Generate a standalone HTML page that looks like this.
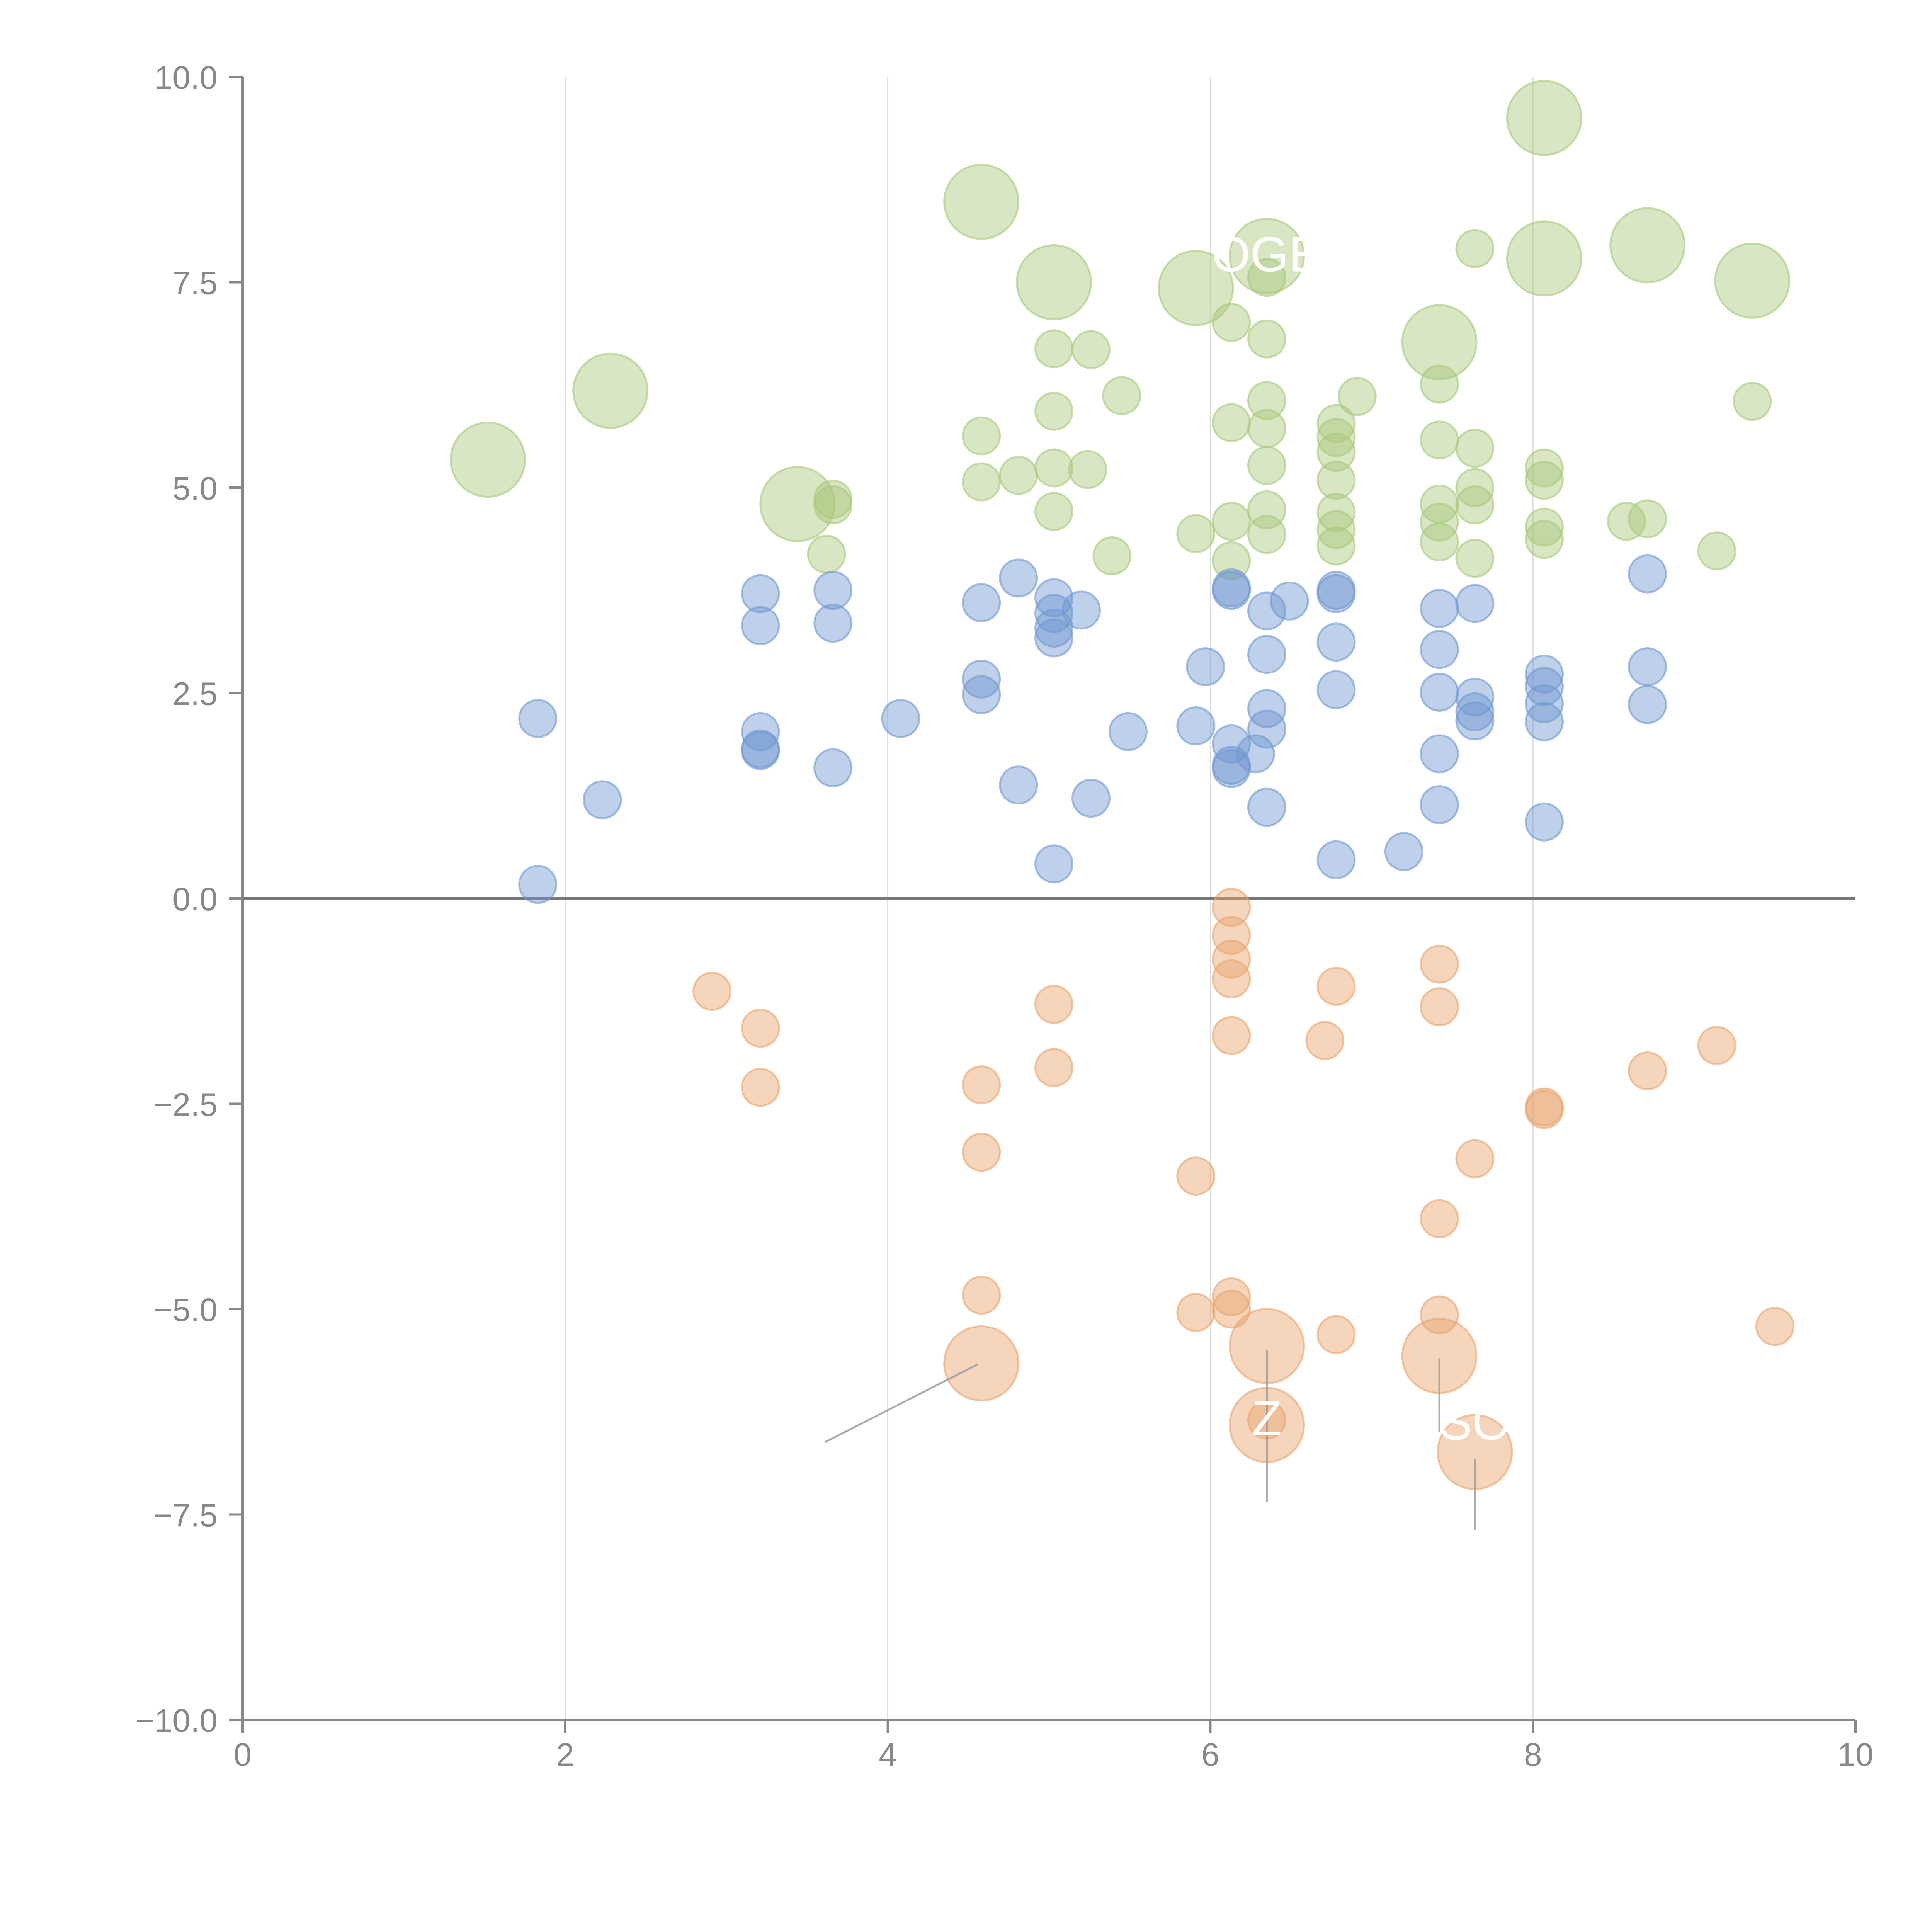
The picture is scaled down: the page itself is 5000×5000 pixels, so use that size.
<!DOCTYPE html>
<html><head><meta charset="utf-8"><style>html,body{margin:0;padding:0;background:#fff}svg{display:block}</style></head>
<body>
<svg id="chart" width="5000" height="5000" viewBox="0 0 5000 5000" xmlns="http://www.w3.org/2000/svg" font-family="Liberation Sans, Arial, sans-serif">
<g id="grid"></g>
<g id="axes"></g>
<g id="marks"></g>
<g id="ann"></g>
</svg>
<script>
const xTicks=[0,2,4,6,8,10];
const xTickLabels=["0","2","4","6","8","10"];
const yTicks=[10,7.5,5,2.5,0,-2.5,-5,-7.5,-10];
const yTickLabels=["10.0","7.5","5.0","2.5","0.0","\u22122.5","\u22125.0","\u22127.5","\u221210.0"];
const greenX=[1.52,2.28,3.44,4.58,5.03,5.91,6.35,7.42,8.07,8.07,8.71,9.36,3.62,3.66,3.66,4.58,4.58,4.81,5.03,5.03,5.03,5.03,5.26,5.24,5.45,5.39,5.91,6.13,6.13,6.13,6.13,6.35,6.35,6.35,6.35,6.35,6.35,6.35,6.78,6.78,6.78,6.78,6.78,6.78,6.78,6.91,7.42,7.42,7.42,7.42,7.42,7.64,7.64,7.64,7.64,7.64,8.07,8.07,8.07,8.07,8.58,8.71,9.14,9.36];
const greenY=[5.34,6.18,4.80,8.48,7.50,7.43,7.82,6.77,9.50,7.79,7.95,7.52,4.19,4.86,4.79,5.63,5.07,5.15,6.69,5.93,5.24,4.71,6.68,5.22,6.12,4.17,4.44,7.01,5.79,4.59,4.11,7.56,6.81,6.06,5.72,5.27,4.73,4.43,5.78,5.61,5.43,5.09,4.70,4.49,4.29,6.11,6.26,5.58,4.80,4.58,4.34,7.91,5.48,5.00,4.79,4.14,5.24,5.09,4.52,4.37,4.59,4.62,4.23,6.05];
const greenSize=[2,2,2,2,2,2,2,2,2,2,2,2,1,1,1,1,1,1,1,1,1,1,1,1,1,1,1,1,1,1,1,1,1,1,1,1,1,1,1,1,1,1,1,1,1,1,1,1,1,1,1,1,1,1,1,1,1,1,1,1,1,1,1,1];
const blueX=[1.83,1.83,2.23,3.21,3.21,3.21,3.21,3.21,3.66,3.66,3.66,4.08,4.58,4.58,4.58,4.81,4.81,5.03,5.03,5.03,5.03,5.03,5.20,5.26,5.49,5.91,5.97,6.13,6.13,6.13,6.13,6.13,6.28,6.35,6.35,6.35,6.35,6.35,6.49,6.78,6.78,6.78,6.78,6.78,7.20,7.42,7.42,7.42,7.42,7.42,7.64,7.64,7.64,7.64,8.07,8.07,8.07,8.07,8.07,8.71,8.71,8.71];
const blueY=[2.19,0.17,1.20,3.71,3.32,2.03,1.82,1.80,3.75,3.35,1.59,2.19,3.60,2.67,2.48,3.90,1.38,3.66,3.47,3.29,3.17,0.42,3.51,1.22,2.03,2.10,2.82,3.78,3.75,1.88,1.62,1.58,1.76,3.50,2.97,2.31,2.06,1.11,3.62,3.75,3.71,3.12,2.54,0.47,0.57,3.53,3.03,2.51,1.76,1.14,3.59,2.45,2.27,2.16,2.73,2.58,2.37,2.15,0.93,3.95,2.82,2.36];
const orangeX=[2.91,3.21,3.21,4.58,4.58,4.58,4.58,5.03,5.03,5.91,5.91,6.13,6.13,6.13,6.13,6.13,6.13,6.13,6.35,6.35,6.35,6.71,6.78,6.78,7.42,7.42,7.42,7.42,7.42,7.64,7.64,8.07,8.07,8.71,9.14,9.50];
const orangeY=[-1.13,-1.58,-2.30,-2.27,-3.09,-4.83,-5.66,-1.29,-2.06,-3.38,-5.04,-0.11,-0.45,-0.74,-0.98,-1.67,-4.85,-5.00,-5.45,-6.41,-6.35,-1.73,-1.07,-5.31,-0.80,-1.32,-3.90,-5.07,-5.57,-3.17,-6.74,-2.54,-2.57,-2.10,-1.79,-5.21];
const orangeSize=[1,1,1,1,1,1,2,1,1,1,1,1,1,1,1,1,1,1,2,2,1,1,1,1,1,1,1,1,2,1,2,1,1,1,1,1];

const NS="http://www.w3.org/2000/svg";
const X0=628,X1=4802,Y0=199,Y1=4451;
function sx(v){return X0+(v-0)/(10-0)*(X1-X0);}
function sy(v){return Y0+(10-v)/20*(Y1-Y0);}
function rad(s){return s===2?96:48;}
function mk(tag,parent,attrs){const e=document.createElementNS(NS,tag);for(const k in attrs)e.setAttribute(k,attrs[k]);parent.appendChild(e);return e;}
const grid=document.getElementById('grid'),axes=document.getElementById('axes'),marks=document.getElementById('marks'),ann=document.getElementById('ann');

xTicks.forEach((t,i)=>{
  if(t>0&&t<10){const g=mk('line',grid,{x1:sx(t),x2:sx(t),y1:Y0,y2:Y1,stroke:'#dddddd','stroke-width':3});
  
  }
  const tk=mk('line',axes,{x1:sx(t),x2:sx(t),y1:Y1,y2:Y1+35,stroke:'#888','stroke-width':6});
  
  
  const tx=mk('text',axes,{x:sx(t),y:4570,'text-anchor':'middle','font-size':84,fill:'#888'});
  tx.textContent=xTickLabels[i];
  
  
});
yTicks.forEach((t,i)=>{
  const tk=mk('line',axes,{x1:X0-35,x2:X0,y1:sy(t),y2:sy(t),stroke:'#888','stroke-width':6});
  
  
  const tx=mk('text',axes,{x:563,y:sy(t)+31,'text-anchor':'end','font-size':84,fill:'#888'});
  tx.textContent=yTickLabels[i];
  
  
});
let a=mk('line',axes,{x1:X0,x2:X0,y1:Y0,y2:Y1,stroke:'#888','stroke-width':6});


a=mk('line',axes,{x1:X0,x2:X1,y1:Y1,y2:Y1,stroke:'#888','stroke-width':6});


a=mk('line',axes,{x1:X0,x2:X1,y1:sy(0),y2:sy(0),stroke:'#777','stroke-width':8});



function series(xs,ys,sz,fill,stroke,name){
  xs.forEach((x,i)=>{
    const c=mk('circle',marks,{cx:sx(x),cy:sy(ys[i]),r:rad(sz?sz[i]:1),fill:fill,'fill-opacity':0.45,stroke:stroke,'stroke-opacity':0.6,'stroke-width':5});
    
    
  });
}
series(greenX,greenY,greenSize,'#a8c87a','#a8c87a','bubble-green');
series(blueX,blueY,null,'#6f97d0','#6f97d0','bubble-blue');
series(orangeX,orangeY,orangeSize,'#e9a36c','#e9a36c','bubble-orange');

const leaderX1=[3.61,6.35,7.42,7.64];
const leaderY1=[-6.62,-5.50,-5.60,-6.82];
const leaderX2=[4.56,6.35,7.42,7.64];
const leaderY2=[-5.67,-7.35,-6.50,-7.69];
leaderX1.forEach((x,i)=>{
  const l=mk('line',ann,{x1:sx(x),y1:sy(leaderY1[i]),x2:sx(leaderX2[i]),y2:sy(leaderY2[i]),stroke:'#999','stroke-width':5,'stroke-opacity':0.8});
  
  
});
const labTxt=["OGE","Z","SO"];
const labX=[6.35,6.35,7.64];
const labY=[7.82,-6.35,-6.4];
labTxt.forEach((s,i)=>{
  const t=mk('text',ann,{x:sx(labX[i]),y:sy(labY[i])+40,'text-anchor':'middle','font-size':128,fill:'#ffffff'});
  t.textContent=s;
  
  
});
</script>
</body></html>
